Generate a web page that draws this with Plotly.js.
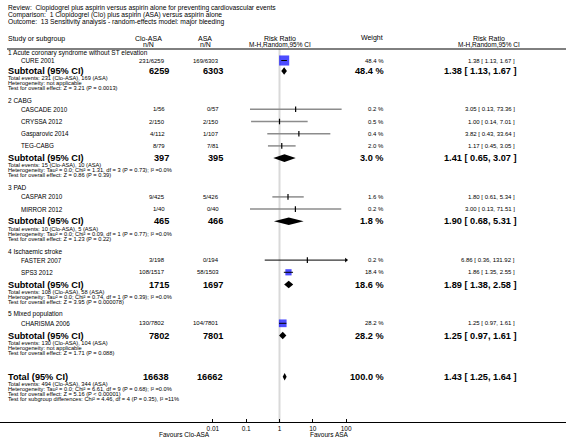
<!DOCTYPE html>
<html><head><meta charset="utf-8">
<script src="https://cdn.plot.ly/plotly-3.0.1.min.js"></script>
<style>html,body{margin:0;padding:0;background:#fff}#chart{width:566px;height:439px}</style>
</head><body><div id="chart"></div>
<script>
// ---------------- DATA ----------------
const titleLines = [
  'Review:  Clopidogrel plus aspirin versus aspirin alone for preventing cardiovascular events',
  'Comparison:  1 Clopidogrel (Clo) plus aspirin (ASA) versus aspirin alone',
  'Outcome:  13 Sensitivity analysis - random-effects model: major bleeding'
];
const groupLabels = ['1 Acute coronary syndrome without ST elevation','2 CABG','3 PAD','4 Ischaemic stroke','5 Mixed population'];
const studyNames = ['CURE 2001','CASCADE 2010','CRYSSA 2012','Gasparovic 2014','TEG-CABG','CASPAR 2010','MIRROR 2012','FASTER 2007','SPS3 2012','CHARISMA 2006'];
const studyGroup = [0,1,1,1,1,2,2,3,3,4];
const cloEvents = [231,1,2,4,8,9,1,3,108,130];
const cloTotal  = [6259,56,150,112,79,425,40,198,1517,7802];
const asaEvents = [169,0,2,1,7,5,0,0,58,104];
const asaTotal  = [6303,57,150,107,81,426,40,194,1503,7801];
const studyRR = [1.38,3.05,1.00,3.82,1.17,1.80,3.00,6.86,1.86,1.25];
const studyLo = [1.13,0.13,0.14,0.43,0.45,0.61,0.13,0.36,1.35,0.97];
const studyHi = [1.67,73.36,7.01,33.64,3.05,5.34,71.51,131.92,2.55,1.61];
const studyWeight = [48.4,0.2,0.5,0.4,2.0,1.6,0.2,0.2,18.4,28.2];

const subCloTotal  = [6259,397,465,1715,7802];
const subAsaTotal  = [6303,395,466,1697,7801];
const subCloEvents = [231,15,10,108,130];
const subAsaEvents = [169,10,5,58,104];
const subWeight = [48.4,3.0,1.8,18.6,28.2];
const subRR = [1.38,1.41,1.90,1.89,1.25];
const subLo = [1.13,0.65,0.68,1.38,0.97];
const subHi = [1.67,3.07,5.31,2.58,1.61];
const subHet = [
  'Heterogeneity: not applicable',
  'Heterogeneity: Tau² = 0.0; Chi² = 1.31, df = 3 (P = 0.73); I² =0.0%',
  'Heterogeneity: Tau² = 0.0; Chi² = 0.09, df = 1 (P = 0.77); I² =0.0%',
  'Heterogeneity: Tau² = 0.0; Chi² = 0.74, df = 1 (P = 0.39); I² =0.0%',
  'Heterogeneity: not applicable'
];
const subTest = [
  'Test for overall effect: Z = 3.21 (P = 0.0013)',
  'Test for overall effect: Z = 0.86 (P = 0.39)',
  'Test for overall effect: Z = 1.23 (P = 0.22)',
  'Test for overall effect: Z = 3.95 (P = 0.000078)',
  'Test for overall effect: Z = 1.71 (P = 0.088)'
];
const totalClo = [16638], totalAsa = [16662], totalCloEvents = [494], totalAsaEvents = [344];
const totalWeight = [100.0], totalRR = [1.43], totalLo = [1.25], totalHi = [1.64];
const totalHet = 'Heterogeneity: Tau² = 0.0; Chi² = 6.61, df = 9 (P = 0.68); I² =0.0%';
const totalTest = 'Test for overall effect: Z = 5.16 (P &lt; 0.00001)';
const totalSubDiff = 'Test for subgroup differences: Chi² = 4.46, df = 4 (P = 0.35), I² =11%';
const axisTicks = [0.01,0.1,1,10,100];
const axisTickLabels = ['0.01','0.1','1','10','100'];
const favoursLeft = 'Favours Clo-ASA', favoursRight = 'Favours ASA';

// ---------------- LAYOUT ----------------
const W = 566, H = 439;
const F = 'Liberation Sans, Arial, sans-serif';
const ONE_PX = 279.5, DEC = 33.3;       // pixel of RR=1, pixels per decade
const xr = [(-ONE_PX)/DEC, (W-ONE_PX)/DEC];
const AXIS_Y = 422;
const X = {name:7, study:20, c1:166, c2:220, c1h:148, c2h:205, rrh:280, wt:385, wth:372, ci:516, cih:489};

// row positions
const headY=[], studyY=[], subY=[], teY=[], hetY=[], testY=[];
let y = 53;
for (let g=0; g<groupLabels.length; g++) {
  headY[g] = y; y += (g===0 ? 7.5 : 9);
  let first = true;
  for (let i=0;i<studyNames.length;i++) if (studyGroup[i]===g) {
    if (!first) y += 12.2;
    studyY[i] = y; first = false;
  }
  y += (g===0 ? 10.5 : 12.2); subY[g] = y;
  teY[g] = y + 7.3; hetY[g] = y + 12.3; testY[g] = y + 17.3;
  y = testY[g] + (g===0 ? 12 : 12.5);
}
const totY = testY[4] + 24;

const ann = [];
function txt(x, yy, text, size, anchor, bold) {
  ann.push({xref:'paper', yref:'y', x:x/W, y:yy, text: bold?('<b>'+text+'</b>'):text, showarrow:false,
    xanchor:anchor||'left', yanchor:'middle', borderpad:0,
    font:{family:F, size:size, color:'#000'}});
}
const fmtCI = (r,l,h)=> r.toFixed(2)+' [ '+l.toFixed(2)+', '+h.toFixed(2)+' ]';
const fmtW = w => w.toFixed(1)+' %';
const BIG = 9.2, SM = 5.7;

titleLines.forEach((t,i)=>txt(X.name, 8+i*7, t, 6.7));
txt(X.name, 39, 'Study or subgroup', 7);
txt(X.c1h, 38, 'Clo-ASA', 7, 'center'); txt(X.c1h, 44, 'n/N', 7, 'center');
txt(X.c2h, 38, 'ASA', 7, 'center');     txt(X.c2h, 44, 'n/N', 7, 'center');
txt(X.rrh, 38, 'Risk Ratio', 7, 'center'); txt(X.rrh, 44, 'M-H,Random,95% CI', 6.5, 'center');
txt(X.wth, 38, 'Weight', 7, 'center');
txt(X.cih, 38, 'Risk Ratio', 7, 'center'); txt(X.cih, 44, 'M-H,Random,95% CI', 6.5, 'center');

for (let g=0; g<groupLabels.length; g++) {
  txt(X.name, headY[g], groupLabels[g], 6.5);
  txt(X.name, subY[g], 'Subtotal (95% CI)', BIG, 'left', true);
  txt(X.c1+4, subY[g], String(subCloTotal[g]), BIG, 'right', true);
  txt(X.c2+4, subY[g], String(subAsaTotal[g]), BIG, 'right', true);
  txt(X.wt, subY[g], fmtW(subWeight[g]), BIG, 'right', true);
  txt(X.ci+2, subY[g], fmtCI(subRR[g], subLo[g], subHi[g]), BIG, 'right', true);
  txt(X.name, teY[g], 'Total events: '+subCloEvents[g]+' (Clo-ASA), '+subAsaEvents[g]+' (ASA)', SM);
  txt(X.name, hetY[g], subHet[g], SM);
  txt(X.name, testY[g], subTest[g], SM);
}
for (let i=0;i<studyNames.length;i++) {
  txt(X.study, studyY[i], studyNames[i], 6.3);
  txt(X.c1, studyY[i], cloEvents[i]+'/'+cloTotal[i], 6, 'right');
  txt(X.c2, studyY[i], asaEvents[i]+'/'+asaTotal[i], 6, 'right');
  txt(X.wt, studyY[i], fmtW(studyWeight[i]), 6, 'right');
  txt(X.ci, studyY[i], fmtCI(studyRR[i], studyLo[i], studyHi[i]), 6, 'right');
}
txt(X.name, totY, 'Total (95% CI)', BIG, 'left', true);
txt(X.c1+4, totY, String(totalClo[0]), BIG, 'right', true);
txt(X.c2+4, totY, String(totalAsa[0]), BIG, 'right', true);
txt(X.wt, totY, fmtW(totalWeight[0]), BIG, 'right', true);
txt(X.ci+2, totY, fmtCI(totalRR[0], totalLo[0], totalHi[0]), BIG, 'right', true);
txt(X.name, totY+7.3, 'Total events: '+totalCloEvents[0]+' (Clo-ASA), '+totalAsaEvents[0]+' (ASA)', SM);
txt(X.name, totY+12.3, totalHet, SM);
txt(X.name, totY+17.3, totalTest, SM);
txt(X.name, totY+22.3, totalSubDiff, SM);
txt(211, AXIS_Y+12, favoursLeft, 6.5, 'right');
txt(309, AXIS_Y+12, favoursRight, 6.5, 'left');

// ---------------- TRACES ----------------
const axMin = axisTicks[0], axMax = axisTicks[axisTicks.length-1];
const gX=[],gY=[],bX=[],bY=[],arX=[],arY=[],tkX=[],tkY=[],sqX=[],sqY=[],sqS=[];
for (let i=0;i<studyNames.length;i++){
  const lo = Math.max(studyLo[i], axMin), hi = Math.min(studyHi[i], axMax);
  const clipped = studyHi[i] > axMax;
  const big = studyWeight[i] >= 5;
  if (big || clipped) { bX.push(lo,hi,null); bY.push(studyY[i],studyY[i],null); }
  else { gX.push(lo,hi,null); gY.push(studyY[i],studyY[i],null); }
  if (clipped) { arX.push(hi); arY.push(studyY[i]); }
  if (big) { sqX.push(studyRR[i]); sqY.push(studyY[i]); sqS.push(1.45*Math.sqrt(studyWeight[i])); }
  else { tkX.push(studyRR[i]); tkY.push(studyY[i]); }
}
const traces = [];
traces.push({type:'scatter',mode:'markers',x:sqX,y:sqY,marker:{symbol:'square',size:sqS,color:'#0000ff',line:{width:0}},hoverinfo:'skip'});
traces.push({type:'scatter',mode:'lines',x:gX,y:gY,line:{color:'#8c8c8c',width:1.5},hoverinfo:'skip'});
traces.push({type:'scatter',mode:'lines',x:bX,y:bY,line:{color:'#000',width:1},hoverinfo:'skip'});
traces.push({type:'scatter',mode:'markers',x:tkX,y:tkY,marker:{symbol:'line-ns-open',size:4,color:'#000',line:{color:'#000',width:1.2}},hoverinfo:'skip'});
traces.push({type:'scatter',mode:'markers',x:arX,y:arY,marker:{symbol:'triangle-right',size:4,color:'#000'},hoverinfo:'skip'});
const dH = 3.8;
function diamond(r,l,h,yy){
  traces.push({type:'scatter',mode:'lines',x:[l,r,h,r,l],y:[yy,yy-dH,yy,yy+dH,yy],fill:'toself',fillcolor:'#000',line:{width:0,color:'#000'},hoverinfo:'skip'});
}
for (let g=0; g<subRR.length; g++) diamond(subRR[g],subLo[g],subHi[g],subY[g]);
diamond(totalRR[0],totalLo[0],totalHi[0],totY);

const layout = {
  width:W, height:H, margin:{l:0,r:0,t:0,b:0}, paper_bgcolor:'#fff', plot_bgcolor:'#fff', showlegend:false,
  xaxis:{type:'log', range:xr, anchor:'free', position:(H-AXIS_Y)/H, showline:true, linecolor:'#000', linewidth:1,
    ticks:'inside', ticklen:3, tickcolor:'#000', tickvals:axisTicks, ticktext:axisTickLabels,
    tickfont:{family:F,size:6.5,color:'#000'}, showgrid:false, zeroline:false, fixedrange:true},
  yaxis:{range:[H,0], visible:false, showgrid:false, zeroline:false, fixedrange:true},
  shapes:[
    {type:'line', xref:'paper', yref:'y', x0:7/W, x1:1, y0:49, y1:49, line:{color:'#000', width:1}},
    {type:'line', xref:'x', yref:'y', x0:1, x1:1, y0:49, y1:AXIS_Y, layer:'below', line:{color:'#d9d9d9', width:2}}
  ],
  annotations: ann
};
Plotly.newPlot('chart', traces, layout, {staticPlot:true, displayModeBar:false});
</script></body></html>
